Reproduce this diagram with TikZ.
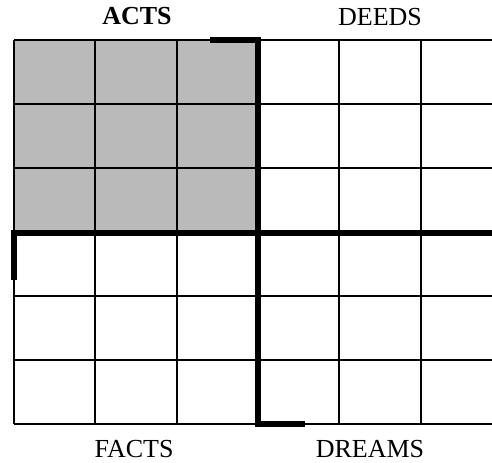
\documentclass[tikz,border=0pt]{standalone}
\usepackage{fontspec}
\setmainfont{Liberation Serif}
\begin{document}
\begin{tikzpicture}[x=0.75pt,y=-0.75pt,
  thin grid/.style={line width=1.5pt,black},
  thick bar/.style={line width=4.5pt,black},
  lbl/.style={font=\fontsize{19.5}{20}\selectfont,inner sep=0pt,anchor=base}]
\clip (0,0) rectangle (492,462);
\fill[white] (0,0) rectangle (492,462);
% shaded block
\fill[black!27] (14,40) rectangle (258,233);
% grid
\foreach \x in {14,95.33,176.67,258,339.33,420.67,502}
  \draw[thin grid] (\x,40) -- (\x,424);
\foreach \y in {40,104,168,233,296,360,424}
  \draw[thin grid] (14,\y) -- (502,\y);
% thick pinwheel
\draw[thick bar] (210,40) -- (258,40) -- (258,424) -- (305,424);
\draw[thick bar] (14,280) -- (14,233) -- (502,233) -- (502,186);
% labels
\node[lbl] (acts) at (137,24) {\textbf{ACTS}};
\node[lbl] (deeds) at (380,25) {DEEDS};
\node[lbl] (facts) at (134,457) {FACTS};
\node[lbl] (dreams) at (370,457) {DREAMS};
\end{tikzpicture}
\end{document}
